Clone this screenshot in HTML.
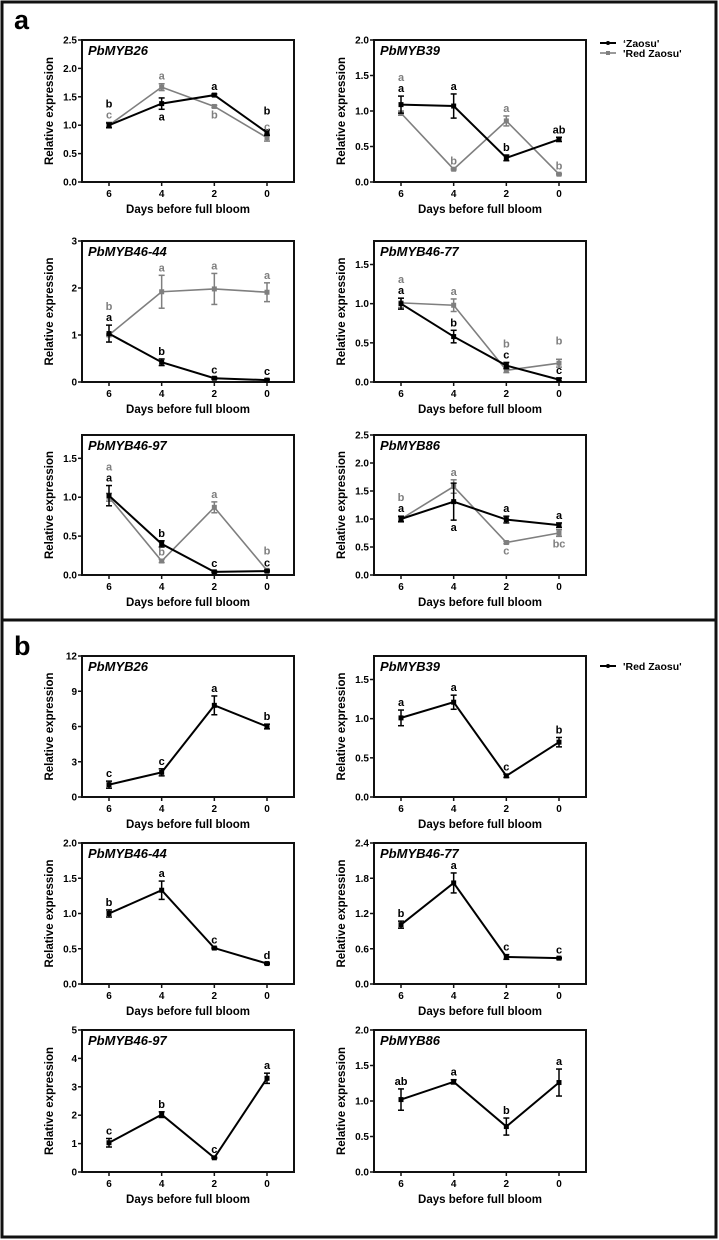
<!DOCTYPE html>
<html><head><meta charset="utf-8">
<style>
html,body{margin:0;padding:0;background:#fff;}
svg{display:block;font-family:"Liberation Sans",Arial,sans-serif;}
</style></head>
<body>
<svg id="fig" width="719" height="1240" viewBox="0 0 719 1240">
<rect x="2" y="2" width="714" height="618" fill="none" stroke="#111" stroke-width="3"/>
<rect x="2" y="620" width="714" height="617" fill="none" stroke="#111" stroke-width="3"/>
<text x="14" y="29" font-size="27" font-weight="bold">a</text>
<text x="14" y="655" font-size="27" font-weight="bold">b</text>
<g>
<line x1="600" y1="43" x2="616" y2="43" stroke="#000" stroke-width="2"/><circle cx="608" cy="43" r="2" fill="#000"/>
<text x="623" y="47" font-size="10.5" font-weight="bold">‘Zaosu'</text>
<line x1="600" y1="53" x2="616" y2="53" stroke="#808080" stroke-width="1.6"/><rect x="606" y="51" width="4" height="4" fill="#808080"/>
<text x="623" y="57" font-size="10.5" font-weight="bold">'Red Zaosu'</text>
</g>
<g>
<line x1="600" y1="666" x2="616" y2="666" stroke="#000" stroke-width="2"/><circle cx="608" cy="666" r="2" fill="#000"/>
<text x="623" y="670" font-size="10.5" font-weight="bold">'Red Zaosu'</text>
</g>
</svg>
<script>
// x categories (days before full bloom)
const days = [6, 4, 2, 0];
// ---- panel a (black = 'Zaosu', gray = 'Red Zaosu') ----
const a1Black = [1.0, 1.38, 1.53, 0.87], a1BlackErr = [0.04, 0.1, 0.02, 0.05];
const a1Gray = [1.0, 1.67, 1.33, 0.78], a1GrayErr = [0.05, 0.06, 0.02, 0.06];
const a1BlackLet = ["b","a","a","b"], a1GrayLet = ["c","a","b","c"];
const a2Black = [1.09, 1.07, 0.34, 0.6], a2BlackErr = [0.12, 0.17, 0.04, 0.03];
const a2Gray = [0.97, 0.18, 0.86, 0.11], a2GrayErr = [0.03, 0.01, 0.07, 0.01];
const a2BlackLet = ["a","a","b","ab"], a2GrayLet = ["a","b","a","b"];
const a3Black = [1.03, 0.42, 0.08, 0.04], a3BlackErr = [0.18, 0.07, 0.02, 0.02];
const a3Gray = [1.0, 1.92, 1.98, 1.91], a3GrayErr = [0.02, 0.35, 0.33, 0.2];
const a3BlackLet = ["a","b","c","c"], a3GrayLet = ["b","a","a","a"];
const a4Black = [1.0, 0.58, 0.21, 0.03], a4BlackErr = [0.07, 0.08, 0.04, 0.02];
const a4Gray = [1.01, 0.98, 0.15, 0.24], a4GrayErr = [0.06, 0.08, 0.03, 0.05];
const a4BlackLet = ["a","b","c","c"], a4GrayLet = ["a","a","b","b"];
const a5Black = [1.02, 0.4, 0.04, 0.05], a5BlackErr = [0.13, 0.04, 0.01, 0.01];
const a5Gray = [1.0, 0.18, 0.87, 0.06], a5GrayErr = [0.05, 0.02, 0.07, 0.01];
const a5BlackLet = ["a","b","c","c"], a5GrayLet = ["a","b","a","b"];
const a6Black = [1.0, 1.31, 0.99, 0.89], a6BlackErr = [0.05, 0.33, 0.06, 0.04];
const a6Gray = [1.0, 1.58, 0.58, 0.75], a6GrayErr = [0.04, 0.12, 0.02, 0.06];
const a6BlackLet = ["a","a","a","a"], a6GrayLet = ["b","a","c","bc"];
// ---- panel b ('Red Zaosu') ----
const b1Vals = [1.05, 2.1, 7.8, 6.0], b1Err = [0.3, 0.3, 0.8, 0.2], b1Let = ["c","c","a","b"];
const b2Vals = [1.01, 1.21, 0.27, 0.7], b2Err = [0.1, 0.09, 0.02, 0.06], b2Let = ["a","a","c","b"];
const b3Vals = [1.0, 1.33, 0.51, 0.29], b3Err = [0.05, 0.13, 0.01, 0.01], b3Let = ["b","a","c","d"];
const b4Vals = [1.01, 1.72, 0.46, 0.44], b4Err = [0.06, 0.17, 0.04, 0.01], b4Let = ["b","a","c","c"];
const b5Vals = [1.03, 2.02, 0.5, 3.3], b5Err = [0.15, 0.1, 0.02, 0.18], b5Let = ["c","b","c","a"];
const b6Vals = [1.02, 1.27, 0.64, 1.26], b6Err = [0.15, 0.03, 0.12, 0.19], b6Let = ["ab","a","b","a"];
// letter placement per point: [black, gray]; u = above, d = below; digit = stack level
const a1Pos = [["u1","u0"],["d0","u0"],["u0","d0"],["u1","u0"]];
const a2Pos = [["u0","u1"],["u0","u0"],["u0","u0"],["u0","u0"]];
const a3Pos = [["u0","u1"],["u0","u0"],["u0","u0"],["u0","u0"]];
const a4Pos = [["u0","u1"],["u0","u0"],["u0","u1"],["u0","u1"]];
const a5Pos = [["u0","u1"],["u0","u0"],["u0","u0"],["u0","u1"]];
const a6Pos = [["u0","u1"],["d0","u0"],["u0","d0"],["u0","d0"]];

const NS = "http://www.w3.org/2000/svg";
const svg = document.getElementById("fig");
function mk(tag, attrs, parent){ const e = document.createElementNS(NS, tag); for (const k in attrs) e.setAttribute(k, attrs[k]); (parent||svg).appendChild(e); return e; }

function panel(o){
  const g = mk("g", {});
  
  
  const L=o.x, T=o.y, W=212, H=o.h, B=T+H;
  const xs = d => L + 27 + (6 - d) / 6 * 158;
  const ys = v => B - v / o.max * H;
  const box = mk("rect", {x:L, y:T, width:W, height:H, fill:"none", stroke:"#111", "stroke-width":2}, g);
  
  
  for (let v = 0; v <= o.max + 1e-9; v += o.step){
    const y = ys(v);
    mk("line", {x1:L-4, y1:y, x2:L, y2:y, stroke:"#111", "stroke-width":1.5}, g);
    const t = mk("text", {x:L-5, y:y+3.5, "font-size":10, "font-weight":"bold", "text-anchor":"end"}, g);
    t.textContent = v.toFixed(o.dec);
    
    
  }
  days.forEach(d => {
    const x = xs(d);
    mk("line", {x1:x, y1:B, x2:x, y2:B+4, stroke:"#111", "stroke-width":1.5}, g);
    const t = mk("text", {x:x, y:B+15, "font-size":10, "font-weight":"bold", "text-anchor":"middle"}, g);
    t.textContent = d;
    
    
  });
  const xt = mk("text", {x:L+W/2, y:B+31, "font-size":11.5, "font-weight":"bold", "text-anchor":"middle"}, g);
  xt.textContent = "Days before full bloom";
  
  
  const yx = L - 29, yy = T + H/2;
  const yt = mk("text", {x:yx, y:yy, "font-size":11.5, "font-weight":"bold", "text-anchor":"middle", transform:`rotate(-90 ${yx} ${yy})`}, g);
  yt.textContent = "Relative expression";
  
  
  const gt = mk("text", {x:L+6, y:T+15, "font-size":13, "font-weight":"bold", "font-style":"italic"}, g);
  gt.textContent = o.title;
  
  
  // extremes of error bars across series at each x
  const upTop = days.map((d,i) => Math.min(...o.series.map(s => ys(s.vals[i] + s.err[i]))));
  const dnBot = days.map((d,i) => Math.max(...o.series.map(s => ys(s.vals[i] - s.err[i]))));
  o.series.forEach((s) => {
    const pts = s.vals.map((v,i) => xs(days[i]) + "," + ys(v)).join(" ");
    const pl = mk("polyline", {points:pts, fill:"none", stroke:s.color, "stroke-width":s.w}, g);
    
    
    s.vals.forEach((v,i) => {
      const x = xs(days[i]), e = s.err[i];
      mk("line", {x1:x, y1:ys(v+e), x2:x, y2:ys(v-e), stroke:s.color, "stroke-width":1.5}, g);
      mk("line", {x1:x-3, y1:ys(v+e), x2:x+3, y2:ys(v+e), stroke:s.color, "stroke-width":1.5}, g);
      mk("line", {x1:x-3, y1:ys(v-e), x2:x+3, y2:ys(v-e), stroke:s.color, "stroke-width":1.5}, g);
      const m = mk("rect", {x:x-2.5, y:ys(v)-2.5, width:5, height:5, fill:s.color}, g);
      
      
    });
  });
  o.series.forEach((s) => {
    s.vals.forEach((v,i) => {
      const x = xs(days[i]), e = s.err[i];
      const p = s.pos ? s.pos[i] : "u0";
      const lvl = +p[1];
      let ly;
      if (p[0] === "u") ly = (lvl ? upTop[i] : ys(v+e)) - 4 - lvl*11;
      else ly = Math.max(ys(v-e), dnBot[i] - 2) + 11;
      if (p[0] === "u" && lvl === 0 && s.pos) ly = Math.min(ly, ys(v+e) - 4);
      const lt = mk("text", {x:x, y:ly, "font-size":11, "font-weight":"bold", "text-anchor":"middle", fill:s.color}, g);
      lt.textContent = s.lets[i];
      
      
    });
  });
}
const GRAY = "#7f7f7f";
function two(id, x, y, h, max, step, dec, title, bk, bkE, gr, grE, bkL, grL, pos){
  // level-0 of the upper-stacked series sits above the other series' top at that x
  panel({id, x, y, h, max, step, dec, title, series:[
    {name:"red-zaosu", vals:gr, err:grE, lets:grL, color:GRAY, w:1.6, pos:pos.map(p=>p[1])},
    {name:"zaosu", vals:bk, err:bkE, lets:bkL, color:"#000", w:2, pos:pos.map(p=>p[0])}
  ]});
}
two("a-pbmyb26", 82, 40, 142, 2.5, 0.5, 1, "PbMYB26", a1Black, a1BlackErr, a1Gray, a1GrayErr, a1BlackLet, a1GrayLet, a1Pos);
two("a-pbmyb39", 374, 40, 142, 2.0, 0.5, 1, "PbMYB39", a2Black, a2BlackErr, a2Gray, a2GrayErr, a2BlackLet, a2GrayLet, a2Pos);
two("a-pbmyb46-44", 82, 241, 141, 3, 1, 0, "PbMYB46-44", a3Black, a3BlackErr, a3Gray, a3GrayErr, a3BlackLet, a3GrayLet, a3Pos);
two("a-pbmyb46-77", 374, 241, 141, 1.8, 0.5, 1, "PbMYB46-77", a4Black, a4BlackErr, a4Gray, a4GrayErr, a4BlackLet, a4GrayLet, a4Pos);
two("a-pbmyb46-97", 82, 435, 140, 1.8, 0.5, 1, "PbMYB46-97", a5Black, a5BlackErr, a5Gray, a5GrayErr, a5BlackLet, a5GrayLet, a5Pos);
two("a-pbmyb86", 374, 435, 140, 2.5, 0.5, 1, "PbMYB86", a6Black, a6BlackErr, a6Gray, a6GrayErr, a6BlackLet, a6GrayLet, a6Pos);
function one(id, x, y, h, max, step, dec, title, v, e, l){
  panel({id, x, y, h, max, step, dec, title, series:[{name:"red-zaosu", vals:v, err:e, lets:l, color:"#000", w:2}]});
}
one("b-pbmyb26", 82, 656, 141, 12, 3, 0, "PbMYB26", b1Vals, b1Err, b1Let);
one("b-pbmyb39", 374, 656, 141, 1.8, 0.5, 1, "PbMYB39", b2Vals, b2Err, b2Let);
one("b-pbmyb46-44", 82, 843, 141, 2.0, 0.5, 1, "PbMYB46-44", b3Vals, b3Err, b3Let);
one("b-pbmyb46-77", 374, 843, 141, 2.4, 0.6, 1, "PbMYB46-77", b4Vals, b4Err, b4Let);
one("b-pbmyb46-97", 82, 1030, 142, 5, 1, 0, "PbMYB46-97", b5Vals, b5Err, b5Let);
one("b-pbmyb86", 374, 1030, 142, 2.0, 0.5, 1, "PbMYB86", b6Vals, b6Err, b6Let);
</script>
</body></html>
